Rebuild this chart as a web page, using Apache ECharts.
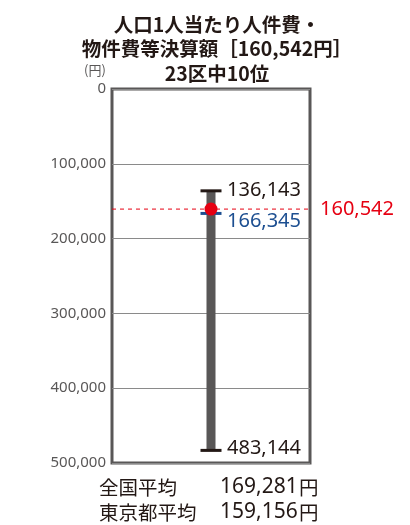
<!DOCTYPE html>
<html><head><meta charset="utf-8">
<script src="https://cdn.jsdelivr.net/npm/echarts@6/dist/echarts.min.js"></script>
<style>html,body{margin:0;padding:0;background:#fff}#c{width:410px;height:525px}</style>
</head><body><div id="c"></div>
<script>
var titleLines = ['人口1人当たり人件費・', '物件費等決算額［160,542円］', '23区中10位'];
var yTicks = [0, 100000, 200000, 300000, 400000, 500000];
var minValue = 136143;
var maxValue = 483144;
var medianValue = 166345;
var selfValue = 160542;
var avgLabels = ['全国平均', '東京都平均'];
var avgValues = [169281, 159156];

function fmt(v){ return v.toLocaleString('en-US'); }

var chart = echarts.init(document.getElementById('c'));
var F = '"Noto Sans CJK JP","Noto Sans",sans-serif';
var NUM = '"Noto Sans",sans-serif';
var RED = '#e60012';

var option = {
  animation: false,
  title: {
    text: titleLines.join('\n'),
    left: 212, top: 7, textAlign: 'center',
    textStyle: { fontFamily: F, fontSize: 19.5, fontWeight: 'bold', color: '#231815', lineHeight: 24.5 }
  },
  grid: { left: 112, right: 100, top: 89, bottom: 62, show: true, borderColor: '#595757', borderWidth: 3, backgroundColor: 'transparent' },
  xAxis: { type: 'category', data: ['x'], show: false },
  yAxis: {
    type: 'value', inverse: true, min: yTicks[0], max: yTicks[yTicks.length-1], interval: 100000,
    axisLine: { show: false }, axisTick: { show: false },
    splitLine: { lineStyle: { color: '#8a8a8a', width: 1 } },
    axisLabel: { fontFamily: NUM, fontSize: 15, color: '#595757', margin: 6, formatter: function(v){ return fmt(v); } }
  },
  graphic: [
    { type: 'text', left: 84, top: 64, style: { text: '(円)', font: '13px "Noto Sans CJK JP"', fill: '#595757' } },
    { type: 'text', left: 99, top: 478, style: { text: avgLabels[0], font: '19.5px "Noto Sans CJK JP"', fill: '#231815' } },
    { type: 'text', left: 220, top: 477, style: { text: fmt(avgValues[0]), font: '21px "Noto Sans"', fill: '#231815' } },
    { type: 'text', left: 299, top: 478, style: { text: '円', font: '19.5px "Noto Sans CJK JP"', fill: '#231815' } },
    { type: 'text', left: 99, top: 503, style: { text: avgLabels[1], font: '19.5px "Noto Sans CJK JP"', fill: '#231815' } },
    { type: 'text', left: 220, top: 502, style: { text: fmt(avgValues[1]), font: '21px "Noto Sans"', fill: '#231815' } },
    { type: 'text', left: 299, top: 503, style: { text: '円', font: '19.5px "Noto Sans CJK JP"', fill: '#231815' } }
  ],
  series: [{
    type: 'custom',
    data: [[0, minValue, maxValue, medianValue, selfValue]],
    encode: { x: 0, y: [1, 2] },
    renderItem: function(params, api){
      var cs = params.coordSys;
      var x = api.coord([0, 0])[0];
      var yLo = api.coord([0, api.value(1)])[1];
      var yHi = api.coord([0, api.value(2)])[1];
      var yMed = api.coord([0, api.value(3)])[1];
      var ySelf = api.coord([0, api.value(4)])[1];
      var font = '20px "Noto Sans",sans-serif';
      return { type: 'group', children: [
        { type: 'line', shape: { x1: cs.x, y1: ySelf, x2: cs.x + cs.width, y2: ySelf }, style: { stroke: RED, lineWidth: 1, lineDash: [4, 4] } },
        { type: 'text', style: { text: fmt(api.value(4)), x: cs.x + cs.width + 10, y: ySelf, fill: RED, font: font, verticalAlign: 'middle' } },
        { type: 'rect', shape: { x: x - 4.5, y: yLo, width: 9, height: yHi - yLo }, style: { fill: '#595757' } },
        { type: 'line', shape: { x1: x - 10.5, y1: yLo, x2: x + 10.5, y2: yLo }, style: { stroke: '#231815', lineWidth: 3 } },
        { type: 'line', shape: { x1: x - 10.5, y1: yHi, x2: x + 10.5, y2: yHi }, style: { stroke: '#231815', lineWidth: 3 } },
        { type: 'line', shape: { x1: x - 10.5, y1: yMed, x2: x + 10.5, y2: yMed }, style: { stroke: '#1d4f91', lineWidth: 3 } },
        { type: 'circle', shape: { cx: x, cy: ySelf, r: 6.5 }, style: { fill: RED } },
        { type: 'text', style: { text: fmt(api.value(1)), x: x + 16, y: yLo - 1, fill: '#231815', font: font, verticalAlign: 'middle' } },
        { type: 'text', style: { text: fmt(api.value(3)), x: x + 16, y: yMed + 8, fill: '#1d4f91', font: font, verticalAlign: 'middle' } },
        { type: 'text', style: { text: fmt(api.value(2)), x: x + 16, y: yHi - 2, fill: '#231815', font: font, verticalAlign: 'middle' } }
      ]};
    }
  }]
};
chart.setOption(option);
</script>
</body></html>
